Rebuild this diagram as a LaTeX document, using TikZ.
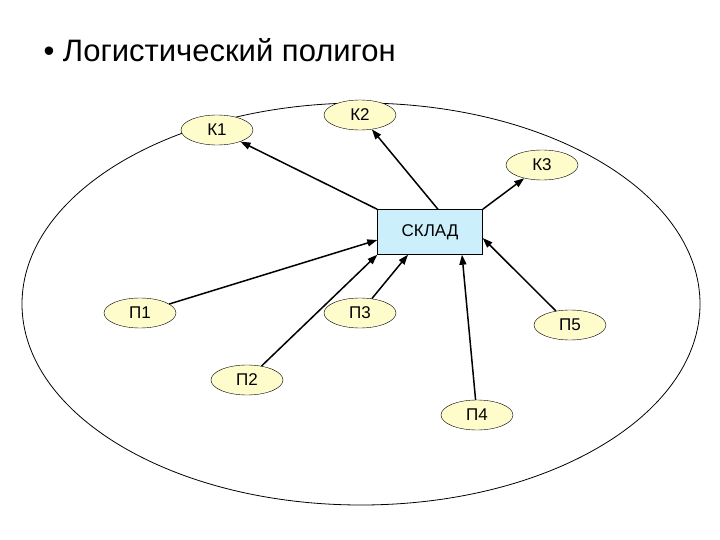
\documentclass[tikz,border=0pt]{standalone}
\usepackage{fontspec}
\setmainfont{Liberation Sans}
\usetikzlibrary{arrows.meta,shapes.geometric}
\begin{document}
\begin{tikzpicture}[x=1pt,y=-1pt,
  pnode/.style={ellipse,draw,fill=yellow!20,minimum width=72pt,minimum height=30pt,inner sep=0pt,font=\fontsize{17}{19}\selectfont},
  arr/.style={line width=1.5pt,-{Triangle[length=10pt,width=7pt]}}]
\useasboundingbox (0,0) rectangle (720,540);
\node[anchor=west,font=\fontsize{31}{35}\selectfont] (title) at (40,50) {• Логистический полигон};
\draw[line width=0.8pt] (361,304) ellipse [x radius=339, y radius=201];
\node[draw,fill=cyan!20,minimum width=105pt,minimum height=45pt,font=\fontsize{17}{19}\selectfont] (s) at (430,232) {СКЛАД};
\node[pnode] (k1) at (217,130) {К1};
\node[pnode] (k2) at (360,115) {К2};
\node[pnode] (k3) at (542,165) {К3};
\node[pnode] (p1) at (140,313) {П1};
\node[pnode] (p3) at (360,313) {П3};
\node[pnode] (p5) at (570,325) {П5};
\node[pnode] (p2) at (247,380) {П2};
\node[pnode] (p4) at (477,415) {П4};
\draw[arr] (s.north west) -- (k1);
\draw[arr] ([xshift=8pt]s.north) -- (k2);
\draw[arr] (s.north east) -- (k3);
\draw[arr] (p1) -- ([yshift=-8pt]s.west);
\draw[arr] (p3) -- ([xshift=-22pt]s.south);
\draw[arr] (p2) -- (s.south west);
\draw[arr] (p4) -- ([xshift=32pt]s.south);
\draw[arr] (p5) -- ([yshift=-6pt]s.east);
\end{tikzpicture}
\end{document}
